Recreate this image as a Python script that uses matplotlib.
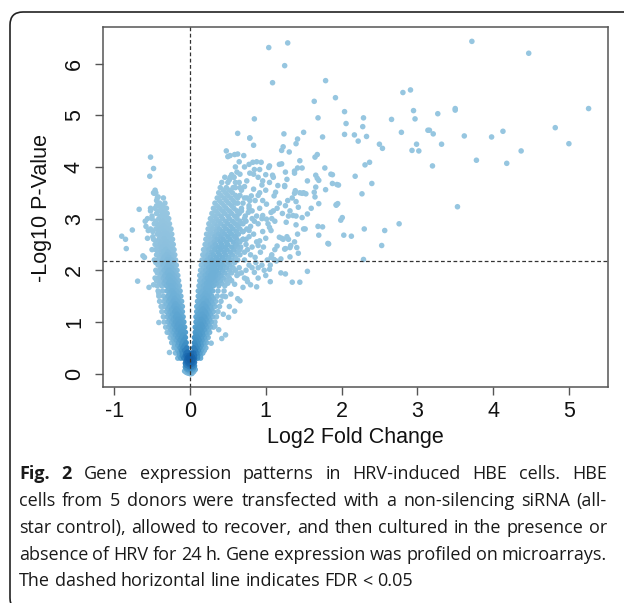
import numpy as np
import matplotlib
matplotlib.use("Agg")
import matplotlib.pyplot as plt
from matplotlib.colors import LinearSegmentedColormap
from matplotlib.patches import FancyBboxPatch
from matplotlib.transforms import IdentityTransform

W, H = 624, 603

# ---- data (log2 fold change, -log10 p) ----
CENTER = [(-0.05, 0.10), (-0.03, 0.05), (0.00, 0.02), (0.03, 0.06), (0.05, 0.12),
          (-0.02, 0.15), (0.02, 0.18), (0.00, 0.10), (-0.06, 0.20), (0.06, 0.22),
          (-0.04, 0.28), (0.04, 0.30), (0.00, 0.25), (-0.01, 0.35), (0.02, 0.40),
          (-0.03, 0.42), (0.07, 0.08), (-0.07, 0.05), (0.01, 0.30), (-0.02, 0.22),
          (0.03, 0.14), (-0.04, 0.16), (0.05, 0.04), (-0.05, 0.03), (0.01, 0.07),
          (-0.01, 0.12), (0.04, 0.21), (-0.03, 0.31), (0.02, 0.00), (-0.02, 0.01),
          (0.00, 0.17), (0.03, 0.25), (-0.03, 0.20), (0.01, 0.13), (-0.01, 0.06)]
CENTER_CORE = [(-0.04, 0.02), (-0.02, 0.04), (0.00, 0.06), (0.02, 0.03), (0.04, 0.09),
               (-0.04, 0.12), (-0.02, 0.09), (0.00, 0.14), (0.02, 0.11), (0.04, 0.16),
               (-0.05, 0.18), (-0.03, 0.25), (0.00, 0.20), (0.02, 0.23), (0.05, 0.27),
               (-0.01, 0.28), (0.03, 0.33), (-0.04, 0.35), (0.00, 0.32), (0.06, 0.15),
               (-0.06, 0.13), (0.01, 0.04), (-0.01, 0.18), (0.03, 0.19), (-0.02, 0.30),
               (0.00, 0.00), (-0.03, 0.08), (0.03, 0.01), (0.01, 0.21), (-0.05, 0.24)]

LEFT_ROWS = [
    (0.30, [-0.08, -0.12, -0.16]),
    (0.40, [-0.05, -0.10, -0.14, -0.19]),
    (0.50, [-0.04, -0.09, -0.13, -0.18, -0.21]),
    (0.60, [-0.05, -0.10, -0.15, -0.20, -0.24]),
    (0.70, [-0.06, -0.11, -0.16, -0.21, -0.26]),
    (0.80, [-0.06, -0.12, -0.17, -0.22, -0.27, -0.30]),
    (0.90, [-0.07, -0.12, -0.18, -0.23, -0.28, -0.32]),
    (1.00, [-0.08, -0.13, -0.19, -0.24, -0.29, -0.34]),
    (1.10, [-0.09, -0.14, -0.19, -0.25, -0.30, -0.35]),
    (1.20, [-0.10, -0.15, -0.20, -0.26, -0.31, -0.37]),
    (1.30, [-0.10, -0.16, -0.21, -0.27, -0.33, -0.38]),
    (1.40, [-0.11, -0.17, -0.22, -0.28, -0.34, -0.40]),
    (1.50, [-0.12, -0.17, -0.23, -0.29, -0.35, -0.41]),
    (1.60, [-0.13, -0.18, -0.24, -0.30, -0.36, -0.42]),
    (1.70, [-0.14, -0.19, -0.25, -0.31, -0.37, -0.43]),
    (1.80, [-0.15, -0.20, -0.26, -0.32, -0.38, -0.44]),
    (1.90, [-0.16, -0.21, -0.27, -0.33, -0.39]),
    (2.00, [-0.17, -0.22, -0.28, -0.34, -0.40, -0.45]),
    (2.10, [-0.18, -0.23, -0.29, -0.35, -0.42]),
    (2.20, [-0.19, -0.24, -0.30, -0.36, -0.43, -0.47]),
    (2.30, [-0.20, -0.25, -0.31, -0.37, -0.44]),
    (2.40, [-0.21, -0.26, -0.32, -0.38, -0.45, -0.50]),
    (2.50, [-0.22, -0.27, -0.33, -0.39, -0.46]),
    (2.60, [-0.23, -0.28, -0.34, -0.41, -0.48]),
    (2.70, [-0.24, -0.30, -0.36, -0.43]),
    (2.80, [-0.25, -0.31, -0.38, -0.45, -0.52]),
    (2.90, [-0.27, -0.33, -0.40, -0.47]),
    (3.00, [-0.28, -0.34, -0.41, -0.50]),
    (3.10, [-0.30, -0.36, -0.44]),
    (3.20, [-0.31, -0.38, -0.46, -0.52]),
    (3.30, [-0.33, -0.40]),
    (3.40, [-0.35, -0.43]),
    (3.50, [-0.45, -0.48]),
]
LEFT_LOW = [
    (0.35, [-0.06, -0.10, -0.14]), (0.45, [-0.07, -0.11, -0.16]),
    (0.55, [-0.07, -0.11, -0.16, -0.20]), (0.65, [-0.08, -0.13, -0.18, -0.22]),
    (0.75, [-0.09, -0.14, -0.19, -0.24]), (0.85, [-0.09, -0.15, -0.20, -0.25]),
    (0.95, [-0.10, -0.16, -0.21, -0.26]), (1.05, [-0.11, -0.16, -0.22, -0.27]),
    (1.15, [-0.12, -0.17, -0.23, -0.28]), (1.25, [-0.13, -0.18, -0.24, -0.29]),
    (1.35, [-0.14, -0.19, -0.25, -0.31]), (1.45, [-0.15, -0.20, -0.26, -0.32]),
    (1.55, [-0.15, -0.21, -0.27]), (1.65, [-0.16, -0.22, -0.28]),
]
LEFT_MID = [
    (1.75, [-0.17, -0.22, -0.28, -0.34, -0.40]), (1.85, [-0.18, -0.23, -0.29, -0.35, -0.41]),
    (1.95, [-0.19, -0.24, -0.30, -0.37, -0.43]), (2.05, [-0.20, -0.25, -0.31, -0.38]),
    (2.15, [-0.21, -0.27, -0.33, -0.39, -0.45]), (2.25, [-0.22, -0.28, -0.34, -0.40]),
    (2.35, [-0.23, -0.29, -0.35, -0.42]), (2.45, [-0.24, -0.30, -0.36, -0.43]),
    (2.55, [-0.25, -0.31, -0.37, -0.44]), (2.65, [-0.26, -0.32, -0.39]),
    (2.75, [-0.27, -0.34, -0.41, -0.49]), (2.85, [-0.29, -0.35, -0.42]),
    (2.95, [-0.30, -0.37, -0.45]), (3.05, [-0.32, -0.39]),
    (3.15, [-0.34, -0.41]), (3.25, [-0.36, -0.44]),
]
LEFT_OUT = [(-0.90, 2.66), (-0.85, 2.60), (-0.84, 2.42), (-0.76, 2.78), (-0.67, 3.18),
            (-0.69, 1.79), (-0.52, 4.19), (-0.48, 3.97), (-0.53, 3.82), (-0.47, 3.49),
            (-0.46, 3.55), (-0.59, 2.95), (-0.55, 2.77), (-0.62, 2.28), (-0.60, 2.25),
            (-0.54, 1.67), (-0.41, 0.99), (-0.27, 0.41), (-0.56, 2.62), (-0.58, 2.85),
            (-0.50, 3.05), (-0.44, 3.35), (-0.42, 3.42), (-0.40, 3.25), (-0.52, 3.15),
            (-0.56, 3.00), (-0.49, 2.65), (-0.46, 1.85), (-0.48, 1.72), (-0.41, 1.55),
            (-0.36, 1.30)]

RIGHT_ROWS = [
    (0.30, [0.06, 0.10, 0.14]),
    (0.40, [0.05, 0.09, 0.13, 0.17]),
    (0.50, [0.05, 0.09, 0.13, 0.17, 0.21]),
    (0.60, [0.06, 0.10, 0.14, 0.18, 0.22]),
    (0.70, [0.06, 0.10, 0.15, 0.19, 0.24]),
    (0.80, [0.07, 0.11, 0.16, 0.21, 0.26]),
    (0.90, [0.07, 0.12, 0.17, 0.22, 0.27, 0.31]),
    (1.00, [0.08, 0.13, 0.18, 0.23, 0.28, 0.33]),
    (1.10, [0.08, 0.13, 0.19, 0.24, 0.30, 0.35]),
    (1.20, [0.09, 0.14, 0.20, 0.25, 0.31, 0.37]),
    (1.30, [0.09, 0.15, 0.21, 0.27, 0.33, 0.39]),
    (1.40, [0.10, 0.16, 0.22, 0.28, 0.34, 0.41]),
    (1.50, [0.11, 0.17, 0.23, 0.29, 0.36, 0.43]),
    (1.60, [0.11, 0.17, 0.24, 0.30, 0.37, 0.45]),
    (1.70, [0.12, 0.18, 0.25, 0.31, 0.38, 0.46]),
    (1.80, [0.13, 0.19, 0.26, 0.33, 0.40, 0.48, 0.55]),
    (1.90, [0.13, 0.20, 0.27, 0.34, 0.41, 0.50]),
    (2.00, [0.14, 0.21, 0.28, 0.35, 0.43, 0.52, 0.60]),
    (2.10, [0.15, 0.22, 0.29, 0.36, 0.44, 0.53]),
    (2.20, [0.16, 0.23, 0.30, 0.38, 0.46, 0.55, 0.63]),
    (2.30, [0.17, 0.24, 0.31, 0.39, 0.47, 0.56]),
    (2.40, [0.18, 0.25, 0.33, 0.41, 0.49, 0.58, 0.66]),
    (2.50, [0.20, 0.27, 0.34, 0.42, 0.50, 0.60]),
    (2.60, [0.21, 0.28, 0.36, 0.44, 0.53, 0.62, 0.70]),
    (2.70, [0.22, 0.30, 0.38, 0.46, 0.55, 0.64]),
    (2.80, [0.24, 0.31, 0.39, 0.48, 0.57, 0.66, 0.75]),
    (2.90, [0.25, 0.33, 0.41, 0.50, 0.60, 0.70]),
    (3.00, [0.27, 0.35, 0.43, 0.52, 0.62, 0.72, 0.82]),
    (3.10, [0.29, 0.37, 0.46, 0.55, 0.65]),
    (3.20, [0.31, 0.39, 0.48, 0.58, 0.68, 0.78]),
    (3.30, [0.33, 0.42, 0.51, 0.60]),
    (3.40, [0.36, 0.45, 0.54, 0.63, 0.72]),
    (3.50, [0.38, 0.47, 0.56]),
    (3.60, [0.40, 0.48, 0.57, 0.66]),
    (3.70, [0.42, 0.50, 0.60]),
    (3.80, [0.46, 0.53, 0.58]),
]
RIGHT_LOW = [
    (0.35, [0.06, 0.10, 0.14]), (0.45, [0.07, 0.11, 0.15, 0.19]),
    (0.55, [0.07, 0.11, 0.15, 0.19]), (0.65, [0.08, 0.12, 0.16, 0.20]),
    (0.75, [0.08, 0.13, 0.17, 0.22]), (0.85, [0.09, 0.14, 0.19, 0.24]),
    (0.95, [0.10, 0.15, 0.20, 0.25]), (1.05, [0.10, 0.15, 0.21, 0.26]),
    (1.15, [0.11, 0.16, 0.22, 0.27]), (1.25, [0.12, 0.17, 0.23, 0.28]),
    (1.35, [0.12, 0.18, 0.24, 0.30]), (1.45, [0.13, 0.19, 0.25, 0.31]),
    (1.55, [0.14, 0.20, 0.26]), (1.65, [0.14, 0.21, 0.27]),
]
RIGHT_MID = [
    (1.75, [0.15, 0.22, 0.28, 0.35, 0.42, 0.50]), (1.85, [0.16, 0.23, 0.30, 0.37, 0.44, 0.52]),
    (1.95, [0.17, 0.24, 0.31, 0.38, 0.46, 0.55]), (2.05, [0.18, 0.25, 0.32, 0.40, 0.48, 0.57]),
    (2.15, [0.19, 0.26, 0.33, 0.41, 0.50, 0.59]), (2.25, [0.20, 0.27, 0.35, 0.43, 0.51, 0.60]),
    (2.35, [0.21, 0.29, 0.37, 0.45, 0.53, 0.62]), (2.45, [0.23, 0.30, 0.38, 0.46, 0.55, 0.63]),
    (2.55, [0.24, 0.32, 0.40, 0.48, 0.57, 0.66]), (2.65, [0.25, 0.33, 0.41, 0.50, 0.59]),
    (2.75, [0.27, 0.35, 0.43, 0.52, 0.61, 0.70]), (2.85, [0.28, 0.36, 0.45, 0.54, 0.63]),
    (2.95, [0.30, 0.38, 0.47, 0.56, 0.66]), (3.05, [0.32, 0.41, 0.50, 0.59]),
    (3.15, [0.34, 0.43, 0.52, 0.62]), (3.25, [0.36, 0.45, 0.55]),
    (3.35, [0.39, 0.48, 0.57]), (3.45, [0.41, 0.50, 0.60]), (3.55, [0.44, 0.52]),
]
RIGHT_LOWER = [(1.06, 1.78), (0.88, 1.68), (0.66, 1.41), (0.63, 1.45), (0.47, 0.75),
               (0.42, 0.68), (0.28, 0.59), (0.33, 0.92), (0.51, 1.09), (0.59, 1.21),
               (0.54, 1.54), (0.47, 1.49), (0.59, 1.73), (0.70, 1.67), (0.75, 1.83),
               (0.64, 1.93), (0.85, 1.96), (1.55, 1.98), (1.26, 1.93), (1.35, 1.77),
               (1.45, 1.77), (1.20, 1.95), (0.52, 1.30), (0.44, 1.15), (0.38, 0.85),
               (1.05, 2.02), (1.06, 2.10)]
RIGHT_UPPER = [(0.52, 3.75), (0.55, 3.85), (0.58, 3.80), (0.62, 3.90), (0.65, 3.70),
               (0.60, 3.60), (0.68, 3.55), (0.72, 3.62), (0.75, 3.40), (0.70, 3.30),
               (0.78, 3.25), (0.82, 3.15), (0.88, 3.05), (0.92, 3.20), (0.95, 3.00),
               (0.85, 2.95), (0.80, 2.85), (0.74, 2.95), (0.70, 2.75), (0.78, 2.65),
               (0.84, 2.70), (0.88, 2.55), (0.82, 2.45), (0.76, 2.40), (0.72, 2.35),
               (0.80, 2.30), (0.86, 2.25), (0.93, 2.35), (0.97, 2.45), (1.00, 2.62),
               (0.96, 2.75), (0.90, 2.90), (1.03, 2.90), (1.08, 3.00), (1.12, 2.95),
               (1.15, 3.20), (1.22, 3.10), (1.18, 3.30), (1.26, 3.25), (1.32, 3.15),
               (1.35, 3.40), (1.45, 3.50), (1.50, 3.50), (1.43, 3.22), (1.48, 3.02),
               (1.52, 2.80), (1.42, 2.70), (1.38, 2.55), (1.28, 2.65), (1.12, 2.40),
               (1.08, 2.30), (1.02, 2.20), (0.95, 2.10), (0.90, 2.05), (0.87, 2.15),
               (0.82, 2.05), (0.78, 2.10), (0.74, 2.00), (0.68, 1.95), (0.72, 1.85),
               (0.76, 1.78), (0.80, 1.72), (0.65, 2.05), (0.62, 1.90), (0.90, 1.85),
               (1.00, 1.90), (0.98, 2.00), (1.14, 2.18), (1.20, 2.22),
               (0.60, 4.00), (0.65, 4.10), (0.72, 4.00), (0.78, 4.05), (0.85, 3.95),
               (0.88, 4.10), (0.92, 3.95), (1.00, 3.85), (1.05, 3.70), (1.00, 3.55),
               (0.92, 3.50), (0.95, 3.65), (1.10, 3.80), (0.90, 3.45), (0.86, 3.35),
               (0.66, 3.45), (0.63, 3.30), (0.68, 3.15), (0.73, 3.05), (0.77, 3.12),
               (0.62, 3.05), (0.66, 2.90), (0.70, 2.60), (0.74, 2.50), (0.67, 2.45),
               (0.72, 2.20), (0.66, 2.30), (0.62, 2.50), (0.60, 2.65),
               (0.63, 4.65), (0.79, 4.56), (0.84, 4.42), (0.48, 4.31), (0.53, 4.22),
               (0.59, 4.24), (0.71, 4.22), (0.83, 4.09), (0.94, 4.09), (1.18, 4.05),
               (1.38, 3.92), (0.66, 3.86), (0.79, 3.88), (0.84, 3.86), (0.75, 3.73),
               (0.90, 3.80), (0.96, 3.73), (1.16, 3.64), (1.13, 3.51), (1.11, 3.44),
               (1.25, 3.64), (1.29, 3.35), (1.39, 3.54), (0.84, 3.57), (0.81, 3.44),
               (0.79, 3.35), (0.96, 3.35), (1.01, 3.28), (1.10, 3.15), (1.07, 3.12),
               (0.96, 3.06), (1.01, 2.99), (1.18, 2.64), (1.23, 2.60), (1.32, 2.44),
               (1.25, 2.41), (1.36, 3.06), (1.05, 2.83), (1.07, 2.77), (0.92, 2.57),
               (0.90, 2.48), (0.78, 2.77), (0.74, 2.60), (0.50, 4.20), (0.63, 4.25),
               (0.85, 4.93), (0.79, 4.56)]
RIGHT_FAR = [(1.04, 6.31), (1.29, 6.40), (1.25, 5.96), (1.09, 5.63), (1.79, 5.67),
             (1.64, 5.27), (1.92, 5.34), (1.69, 4.95), (2.04, 5.07), (2.06, 4.84),
             (2.29, 4.95), (2.28, 4.78), (2.66, 4.92), (2.81, 5.44), (2.91, 5.49),
             (2.95, 5.09), (2.97, 4.93), (3.14, 4.71), (1.50, 4.67), (1.24, 4.64),
             (2.04, 4.63), (2.17, 4.62), (2.33, 4.59), (2.22, 4.50), (1.75, 4.58),
             (1.42, 4.54), (1.40, 4.45), (1.23, 4.39), (1.21, 4.32), (1.31, 4.29),
             (2.50, 4.44), (2.54, 4.36), (2.79, 4.67), (2.93, 4.32), (3.02, 4.31),
             (2.99, 4.44), (1.68, 4.24), (1.65, 4.19),
             (3.72, 6.43), (4.47, 6.20), (3.50, 5.13), (3.50, 5.10), (3.27, 5.03),
             (5.26, 5.13), (3.16, 4.71), (3.21, 4.64), (3.32, 4.44), (3.62, 4.60),
             (3.98, 4.58), (4.13, 4.69), (4.82, 4.76), (5.00, 4.45), (4.37, 4.31),
             (3.20, 4.02), (3.78, 4.13), (4.18, 4.07), (3.53, 3.23), (2.76, 2.90),
             (2.31, 4.04), (2.37, 4.09), (2.18, 3.82), (2.40, 3.68), (2.27, 3.48),
             (2.57, 2.77), (2.30, 2.80), (2.53, 2.48), (2.29, 2.21), (2.03, 2.68),
             (2.13, 2.66), (1.83, 2.51), (1.75, 2.84), (1.70, 2.68), (1.99, 2.97),
             (2.01, 3.02), (1.93, 3.26), (1.95, 3.29), (1.88, 3.68), (1.96, 3.65),
             (1.88, 3.85), (1.78, 3.98), (1.79, 3.56), (1.70, 3.29), (1.65, 3.42),
             (1.60, 3.20), (1.55, 3.09), (1.50, 2.80), (1.66, 3.84), (1.68, 3.78),
             (1.70, 3.74), (1.53, 3.48), (1.48, 3.49), (1.40, 3.33), (1.38, 3.49),
             (1.55, 3.73), (1.45, 4.12), (1.42, 3.98), (1.48, 3.98), (1.38, 3.88),
             (1.26, 3.90), (1.28, 3.76), (1.21, 4.06), (1.05, 4.02), (1.04, 3.99),
             (1.09, 3.84), (1.25, 3.62), (1.40, 3.05), (1.30, 3.05), (1.27, 2.93),
             (1.40, 2.88), (1.21, 2.62), (1.30, 2.60), (1.33, 2.48), (1.26, 2.42),
             (1.41, 2.44), (1.43, 2.33), (1.32, 2.26), (1.15, 2.47), (1.07, 2.25),
             (1.11, 2.21), (1.64, 3.51), (1.66, 3.61), (1.86, 3.86), (1.94, 3.66),
             (1.93, 3.27), (1.69, 2.85), (1.82, 2.52)]

THRESHOLD = 2.18
X_TICKS = [-1, 0, 1, 2, 3, 4, 5]
Y_TICKS = [0, 1, 2, 3, 4, 5, 6]

CAPTION = [
    "Fig. 2 Gene expression patterns in HRV-induced HBE cells. HBE",
    "cells from 5 donors were transfected with a non-silencing siRNA (all-",
    "star control), allowed to recover, and then cultured in the presence or",
    "absence of HRV for 24 h. Gene expression was profiled on microarrays.",
    "The dashed horizontal line indicates FDR < 0.05",
]


def expand_rows(rows):
    return [(x, y) for y, xs in rows for x in xs]


def norm01(v):
    return (v - v.min()) / (v.max() - v.min())


def main():
    pts = (CENTER + CENTER_CORE + expand_rows(LEFT_ROWS) + expand_rows(LEFT_LOW)
           + expand_rows(LEFT_MID) + LEFT_OUT
           + expand_rows(RIGHT_ROWS) + expand_rows(RIGHT_LOW)
           + expand_rows(RIGHT_MID) + RIGHT_LOWER + RIGHT_UPPER + RIGHT_FAR)
    xs = np.array([p[0] for p in pts])
    ys = np.array([p[1] for p in pts])

    # point density (like densCols): a local and a wider kernel, screen units
    px, py = xs * 76.0, ys * 51.7
    d2 = (px[:, None] - px[None, :]) ** 2 + (py[:, None] - py[None, :]) ** 2
    local = norm01(np.exp(-d2 / (2 * 9.0 ** 2)).sum(axis=1))
    wide = norm01(np.exp(-d2 / (2 * 26.0 ** 2)).sum(axis=1))
    mix = 0.55 * local + 0.45 * wide
    level = np.clip((mix - 0.3) / 0.7, 0, 1) ** 1.8
    cmap = LinearSegmentedColormap.from_list(
        "blues", ["#96c6e0", "#8cc0de", "#6baed6", "#4292c6", "#2171b5",
                  "#08519c", "#08306b"])
    order = np.argsort(level)

    fig = plt.figure(figsize=(W / 100, H / 100), dpi=100)
    fig.patch.set_facecolor("white")

    # rounded frame around figure + caption
    frame = FancyBboxPatch((10, -8), 650, 603 - 12 + 8,
                           boxstyle="round,pad=0,rounding_size=13",
                           transform=IdentityTransform(), fill=False,
                           edgecolor="#222222", linewidth=1.2)
    fig.patches.append(frame)

    ax = fig.add_axes([103 / W, 1 - 387 / H, (608 - 103) / W, (387 - 27) / H])
    ax.scatter(xs[order], ys[order], s=16, c=cmap(level[order]),
               edgecolors="none", zorder=2)
    ax.axhline(THRESHOLD, color="#333333", lw=0.9, ls=(0, (3, 2)), zorder=3)
    ax.axvline(0, color="#333333", lw=0.9, ls=(0, (3, 2)), zorder=3)

    ax.set_xlim(-1.147, 5.516)
    ax.set_ylim(-0.258, 6.708)
    ax.set_xticks(X_TICKS)
    ax.set_yticks(Y_TICKS)
    ax.set_xticklabels([str(t) for t in X_TICKS])
    ax.set_yticklabels([str(t) for t in Y_TICKS], rotation=90, va="center")
    for s in ax.spines.values():
        s.set_color("#555555")
        s.set_linewidth(1.1)
    ax.tick_params(direction="out", length=6, width=1, color="#555555",
                   labelsize=15.5, labelcolor="#111111")
    ax.tick_params(axis="x", pad=4)
    ax.tick_params(axis="y", pad=7)
    for lab in ax.get_xticklabels() + ax.get_yticklabels():
        lab.set_family("Liberation Sans")

    fig.text(355 / W, 1 - 438 / H, "Log2 Fold Change", ha="center", va="center",
             fontsize=15.5, family="Liberation Sans", color="#111111")
    fig.text(42 / W, 1 - 208 / H, "-Log10 P-Value", ha="center", va="center",
             rotation=90, fontsize=15.5, family="Liberation Sans", color="#111111")

    # caption, justified like the journal layout
    renderer = fig.canvas.get_renderer()
    cap_font = "Open Sans"
    x0, x1 = 19, 607
    probe = fig.text(0, 0, CAPTION[2], fontsize=12, family=cap_font)
    size = 12 * (x1 - x0) / probe.get_window_extent(renderer).width * 0.985
    probe.remove()
    sp = fig.text(0, 0, "a a", fontsize=size, family=cap_font)
    sq = fig.text(0, 0, "aa", fontsize=size, family=cap_font)
    space = sp.get_window_extent(renderer).width - sq.get_window_extent(renderer).width
    sp.remove()
    sq.remove()

    line_y = [474, 501, 528, 555, 581]
    for i, line in enumerate(CAPTION):
        words = line.split(" ")
        texts = []
        for j, w in enumerate(words):
            bold = i == 0 and j < 2
            t = fig.text(0, 0, w, fontsize=size, family=cap_font,
                         fontweight="bold" if bold else "normal",
                         color="#1a1a1a", va="baseline",
                         transform=IdentityTransform())
            texts.append(t)
        widths = [t.get_window_extent(renderer).width for t in texts]
        if i < len(CAPTION) - 1:
            gap = (x1 - x0 - sum(widths)) / (len(words) - 1)
        else:
            gap = space
        x = x0
        for t, w in zip(texts, widths):
            t.set_position((x, H - line_y[i] - 5))
            x += w + gap

    fig.savefig("out.png", dpi=100, facecolor="white")


if __name__ == "__main__":
    main()
